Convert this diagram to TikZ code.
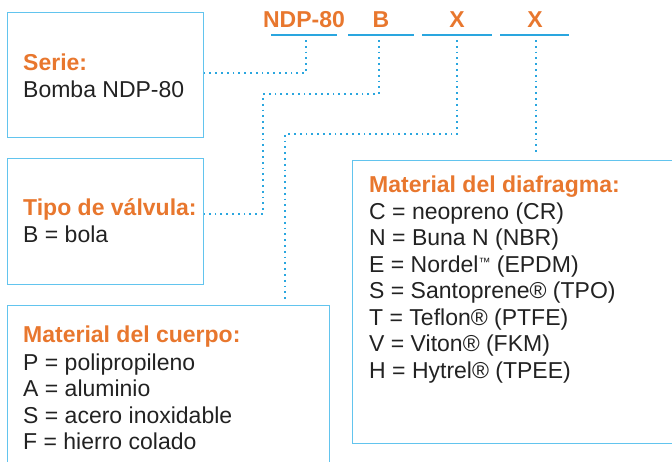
\documentclass[tikz,border=0pt]{standalone}
\usepackage{fontspec}
\setmainfont{Liberation Sans}
\usetikzlibrary{positioning}
\definecolor{codeorange}{HTML}{E8772E}
\definecolor{boxblue}{HTML}{62C4EE}
\definecolor{dotblue}{HTML}{2AA6DF}
\definecolor{txtdark}{HTML}{222222}
\newcommand{\bigtxt}{\fontsize{23}{27}\selectfont}
\newcommand{\tmark}{\raisebox{6pt}{\fontsize{12}{12}\selectfont ™}}
\begin{document}
\begin{tikzpicture}[x=1pt, y=-1pt, font=\bigtxt,
  box/.style={draw=boxblue, line width=1.4pt, anchor=north west, inner sep=0pt},
  hdr/.style={text=codeorange, font=\bigtxt\bfseries, anchor=base west, inner sep=0pt},
  code/.style={text=codeorange, font=\bigtxt\bfseries, anchor=base, inner sep=0pt},
  entry/.style={text=txtdark, anchor=base west, inner sep=0pt},
  uline/.style={draw=dotblue, line width=1.3pt},
  link/.style={dotblue, line width=1.8pt, dash pattern=on 1.8pt off 4pt}]
  \useasboundingbox (0,0) rectangle (672,461);
  \clip (0,0) rectangle (672,461);
  % boxes
  \node[box, minimum width=196pt, minimum height=125pt] (serie) at (7,12) {};
  \node[box, minimum width=196pt, minimum height=126pt] (tipo) at (7,158) {};
  \node[box, minimum width=322pt, minimum height=200pt] (cuerpo) at (7,305) {};
  \node[box, minimum width=340pt, minimum height=283pt] (diaf) at (352,160) {};
  % code line
  \node[code] (cmodel) at (304,27) {NDP-80};
  \node[code] (cvalve) at (381,27) {B};
  \node[code] (cbody) at (457,27) {X};
  \node[code] (cdiaf) at (535,27) {X};
  \coordinate (u1) at (306,35);
  \coordinate (u2) at (379,35);
  \coordinate (u3) at (457,35);
  \coordinate (u4) at (536,35);
  \draw[uline] (271,35) -- (337,35);
  \draw[uline] (348,35) -- (414,35);
  \draw[uline] (422,35) -- (492,35);
  \draw[uline] (500,35) -- (569,35);
  % texts
  \node[hdr] (hserie) at (23,70) {Serie:};
  \node[entry] (tserie) at (23,97) {Bomba NDP-80};
  \node[hdr] (htipo) at (23,215) {Tipo de válvula:};
  \node[entry] (ttipo) at (23,242) {B = bola};
  \node[hdr] (hcuerpo) at (23,342) {Material del cuerpo:};
  \foreach \t [count=\i from 0] in {P = polipropileno, A = aluminio, S = acero inoxidable, F = hierro colado}
    \node[entry] (tcuerpo\i) at (23,370+26.5*\i) {\t};
  \node[hdr] (hdiaf) at (369,192) {Material del diafragma:};
  \foreach \t [count=\i from 0] in {C = neopreno (CR), N = Buna N (NBR), E = Nordel\tmark{} (EPDM), S = Santoprene® (TPO), T = Teflon® (PTFE), V = Viton® (FKM), H = Hytrel® (TPEE)}
    \node[entry] (tdiaf\i) at (369,219+26.5*\i) {\t};
  % connectors
  \draw[link] ([yshift=-5pt]u1) |- ([yshift=2.5pt]serie.east);
  \draw[link] ([yshift=-5pt]u2) |- (263,94) |- ([yshift=8pt]tipo.east);
  \draw[link] ([yshift=-5pt]u3) |- (285,134) -- ([xshift=278pt,yshift=4pt]cuerpo.north west);
  \draw[link] ([yshift=-5pt]u4) -- ([xshift=184pt,yshift=6pt]diaf.north west);
\end{tikzpicture}
\end{document}
